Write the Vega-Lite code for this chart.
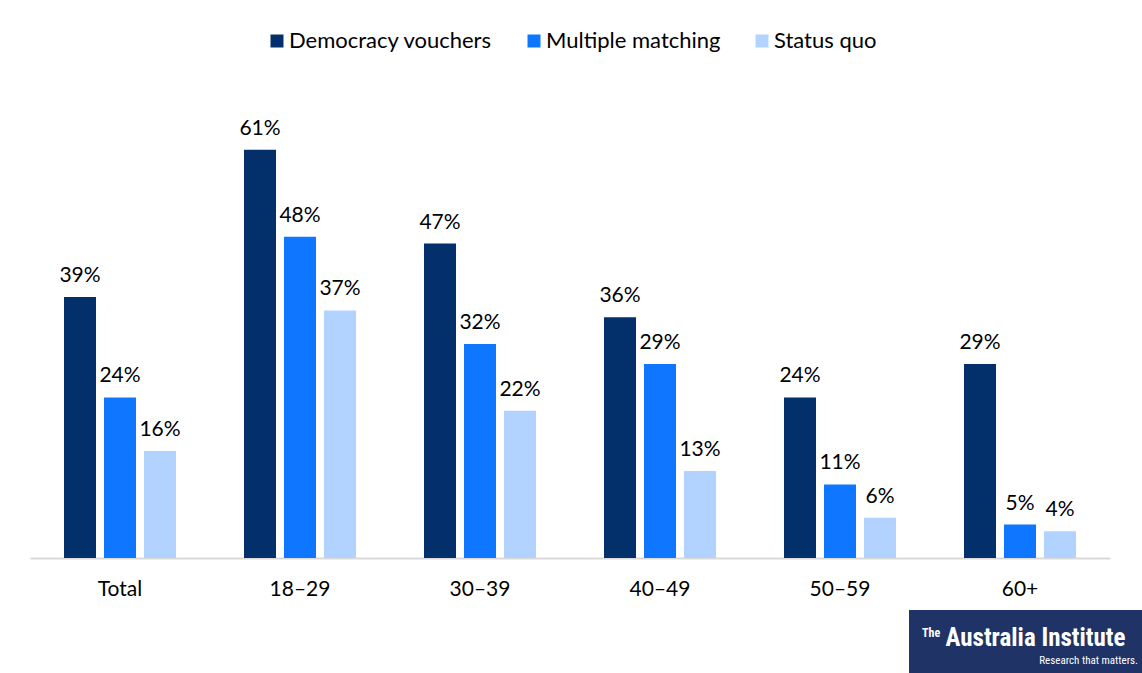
{
  "$schema": "https://vega.github.io/schema/vega-lite/v6.json",
  "padding": {"left": 30, "top": 0, "right": 0, "bottom": 0},
  "background": "white",
  "spacing": 0,
  "config": {"font": "Lato", "view": {"stroke": null}},
  "vconcat": [
    {
      "width": 1080,
      "height": 558,
      "data": {
        "values": [
          {"group": "Total", "series": "Democracy vouchers", "value": 0.39},
          {"group": "Total", "series": "Multiple matching", "value": 0.24},
          {"group": "Total", "series": "Status quo", "value": 0.16},
          {"group": "18–29", "series": "Democracy vouchers", "value": 0.61},
          {"group": "18–29", "series": "Multiple matching", "value": 0.48},
          {"group": "18–29", "series": "Status quo", "value": 0.37},
          {"group": "30–39", "series": "Democracy vouchers", "value": 0.47},
          {"group": "30–39", "series": "Multiple matching", "value": 0.32},
          {"group": "30–39", "series": "Status quo", "value": 0.22},
          {"group": "40–49", "series": "Democracy vouchers", "value": 0.36},
          {"group": "40–49", "series": "Multiple matching", "value": 0.29},
          {"group": "40–49", "series": "Status quo", "value": 0.13},
          {"group": "50–59", "series": "Democracy vouchers", "value": 0.24},
          {"group": "50–59", "series": "Multiple matching", "value": 0.11},
          {"group": "50–59", "series": "Status quo", "value": 0.06},
          {"group": "60+", "series": "Democracy vouchers", "value": 0.29},
          {"group": "60+", "series": "Multiple matching", "value": 0.05},
          {"group": "60+", "series": "Status quo", "value": 0.04}
        ]
      },
      "encoding": {
        "x": {
          "field": "group",
          "type": "nominal",
          "sort": ["Total", "18–29", "30–39", "40–49", "50–59", "60+"],
          "scale": {"paddingInner": 0.3333, "paddingOuter": 0.16667},
          "axis": {
            "title": null,
            "labelAngle": 0,
            "labelFontSize": 21,
            "labelColor": "#000000",
            "labelPadding": 20,
            "ticks": false,
            "domainColor": "#D9D9D9",
            "domainWidth": 2,
            "minExtent": 52,
            "maxExtent": 52
          }
        },
        "xOffset": {
          "field": "series",
          "type": "nominal",
          "sort": ["Democracy vouchers", "Multiple matching", "Status quo"],
          "scale": {"paddingInner": 0.2, "paddingOuter": 0.1}
        },
        "y": {
          "field": "value",
          "type": "quantitative",
          "scale": {"domain": [0, 0.834], "nice": false, "zero": true},
          "axis": null
        }
      },
      "layer": [
        {
          "mark": {"type": "bar"},
          "encoding": {
            "color": {
              "field": "series",
              "type": "nominal",
              "sort": ["Democracy vouchers", "Multiple matching", "Status quo"],
              "scale": {
                "domain": ["Democracy vouchers", "Multiple matching", "Status quo"],
                "range": ["#032F6B", "#0F77FF", "#B2D3FF"]
              },
              "legend": {
                "title": null,
                "orient": "none",
                "direction": "horizontal",
                "legendX": 236,
                "legendY": 30,
                "symbolType": "square",
                "symbolSize": 169,
                "symbolStrokeWidth": 0,
                "labelFontSize": 22,
                "labelLimit": 400,
                "labelColor": "#000000",
                "labelOffset": 1,
                "columnPadding": 30
              }
            }
          }
        },
        {
          "mark": {"type": "text", "dy": -15, "baseline": "alphabetic", "fontSize": 21, "color": "#000000"},
          "encoding": {"text": {"field": "value", "type": "quantitative", "format": ".0%"}}
        }
      ]
    },
    {
      "spacing": 0,
      "hconcat": [
        {
          "width": 879,
          "height": 63,
          "data": {"values": [{}]},
          "mark": {"type": "text", "text": ""},
          "encoding": {}
        },
        {
          "width": 233,
          "height": 63,
          "view": {"fill": "#1F3367", "stroke": null},
          "data": {"values": [{}]},
          "layer": [
            {
              "mark": {"type": "text", "text": "The", "font": "Roboto Condensed, DejaVu Sans Condensed, Roboto", "fontSize": 12, "fontWeight": "bold", "color": "white", "align": "left", "dx": -103.5, "dy": -9}
            },
            {
              "mark": {"type": "text", "text": "Australia Institute", "font": "Roboto Condensed, DejaVu Sans Condensed, Roboto", "fontSize": 25, "fontWeight": "bold", "color": "white", "align": "left", "dx": -80, "dy": -3.5}
            },
            {
              "mark": {"type": "text", "text": "Research that matters.", "font": "Roboto Condensed, DejaVu Sans Condensed, Roboto", "fontSize": 11, "color": "white", "align": "right", "dx": 112.5, "dy": 19.5}
            }
          ]
        }
      ]
    }
  ]
}
